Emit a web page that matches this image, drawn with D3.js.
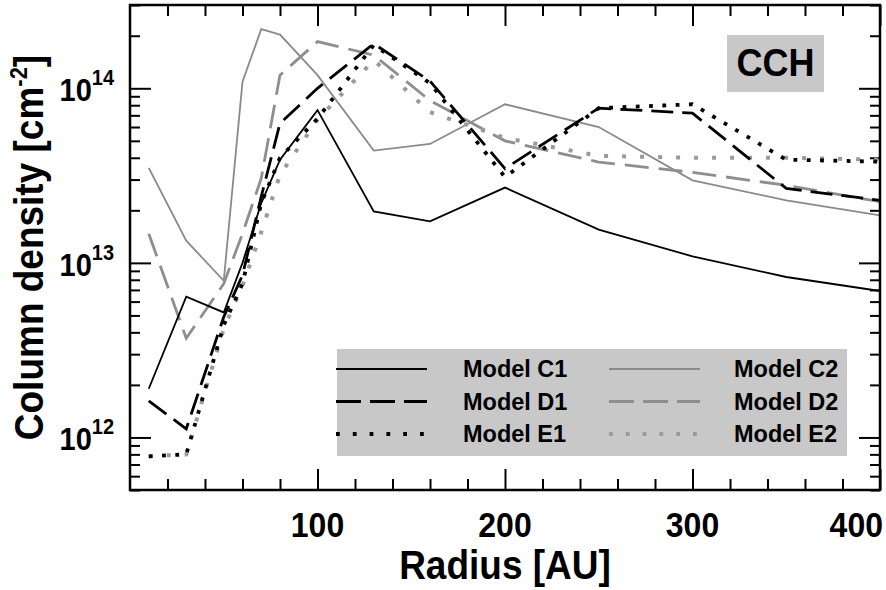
<!DOCTYPE html>
<html>
<head>
<meta charset="utf-8">
<script src="https://cdn.jsdelivr.net/npm/d3@7"></script>
<style>
  body { margin: 0; background: #fff; }
  text { font-family: "Liberation Sans", Arial, Helvetica, sans-serif; font-weight: bold; }
</style>
</head>
<body>
<div id="chart"></div>
<script>
// radius grid [AU] and column densities [cm^-2]
var radius  = [10, 30, 50, 60, 70, 80, 100, 130, 160, 200, 250, 300, 350, 400];
var modelC1 = [1.9e12, 6.4e12, 5.2e12, 1.0e13, 2.2e13, 3.9e13, 7.5e13, 1.97e13, 1.73e13, 2.7e13, 1.55e13, 1.09e13, 8.3e12, 6.9e12];
var modelC2 = [3.5e13, 1.34e13, 7.9e12, 1.09e14, 2.18e14, 2.03e14, 1.19e14, 4.4e13, 4.8e13, 8.1e13, 6.0e13, 2.97e13, 2.28e13, 1.87e13];
var modelD1 = [1.62e12, 1.12e12, 4.9e12, 8.5e12, 2.4e13, 6.3e13, 1.0e14, 1.8e14, 1.1e14, 3.47e13, 7.7e13, 7.2e13, 2.67e13, 2.28e13];
var modelD2 = [1.47e13, 3.7e12, 7.6e12, 1.47e13, 3.05e13, 1.19e14, 1.85e14, 1.55e14, 8.5e13, 5.0e13, 3.78e13, 3.3e13, 2.78e13, 2.24e13];
var modelE1 = [7.8e11, 8.0e11, 4.4e12, 7.6e12, 2.2e13, 4.0e13, 6.7e13, 1.77e14, 1.07e14, 3.1e13, 7.7e13, 8.1e13, 3.9e13, 3.8e13];
var modelE2 = [7.8e11, 8.0e11, 4.2e12, 7.4e12, 1.5e13, 3.2e13, 6.6e13, 1.45e14, 7.3e13, 5.2e13, 4.1e13, 4.0e13, 4.0e13, 3.9e13];

var xMajor = [100, 200, 300, 400];
var yMajor = [1e12, 1e13, 1e14];
var yExponents = ["12", "13", "14"];
var legendNames = ["Model C1", "Model C2", "Model D1", "Model D2", "Model E1", "Model E2"];

var W = 886, H = 590;
var margin = {top: 5, right: 6, bottom: 100, left: 130};
var width = W - margin.left - margin.right;
var height = H - margin.top - margin.bottom;

var svg = d3.select("#chart").append("svg")
    .attr("width", W)
    .attr("height", H);

var g = svg.append("g")
    .attr("transform", "translate(" + margin.left + "," + margin.top + ")");

var x = d3.scaleLinear().domain([0, 400]).range([0, width]);
var y = d3.scaleLog().domain([5e11, 3e14]).range([height, 0]);

// minor ticks
var xMinor = d3.range(0, 401, 20).filter(function(d) { return d % 100 != 0; });
var yMinor = [];
[1e11, 1e12, 1e13, 1e14].forEach(function(p) {
    for (var k = 2; k <= 9; k++) {
        var v = k * p;
        if (v >= 5e11 && v <= 3e14) yMinor.push(v);
    }
});

function tickAxis(axis) {
    return axis.tickFormat("").tickSizeOuter(0);
}

g.append("g").attr("transform", "translate(0," + height + ")")
    .call(tickAxis(d3.axisBottom(x).tickValues(xMajor).tickSizeInner(-21)));
g.append("g").attr("transform", "translate(0," + height + ")")
    .call(tickAxis(d3.axisBottom(x).tickValues(xMinor).tickSizeInner(-11)));
g.append("g")
    .call(tickAxis(d3.axisTop(x).tickValues(xMajor).tickSizeInner(-21)));
g.append("g")
    .call(tickAxis(d3.axisTop(x).tickValues(xMinor).tickSizeInner(-11)));
g.append("g")
    .call(tickAxis(d3.axisLeft(y).tickValues(yMajor).tickSizeInner(-21)));
g.append("g")
    .call(tickAxis(d3.axisLeft(y).tickValues(yMinor).tickSizeInner(-10)));
g.append("g").attr("transform", "translate(" + width + ",0)")
    .call(tickAxis(d3.axisRight(y).tickValues(yMajor).tickSizeInner(-21)));
g.append("g").attr("transform", "translate(" + width + ",0)")
    .call(tickAxis(d3.axisRight(y).tickValues(yMinor).tickSizeInner(-10)));

g.selectAll(".domain").remove();
g.selectAll(".tick line").attr("stroke", "#000").attr("stroke-width", 2);

// series
var series = [
    {v: modelC2, color: "#8a8a8a", w: 1.8, dash: null},
    {v: modelD2, color: "#8e8e8e", w: 2.8, dash: "24,10"},
    {v: modelE2, color: "#9a9a9a", w: 4, dash: "4,14"},
    {v: modelC1, color: "#000", w: 1.8, dash: null},
    {v: modelD1, color: "#000", w: 2.8, dash: "22,9"},
    {v: modelE1, color: "#000", w: 3.8, dash: "3.8,9.5"}
];

g.append("clipPath").attr("id", "clip")
  .append("rect").attr("width", width).attr("height", height);

var line = d3.line()
    .x(function(d) { return x(d[0]); })
    .y(function(d) { return y(d[1]); });

g.append("g").attr("clip-path", "url(#clip)")
  .selectAll("path")
  .data(series)
  .enter().append("path")
    .attr("d", function(s) { return line(d3.zip(radius, s.v)); })
    .attr("fill", "none")
    .attr("stroke", function(s) { return s.color; })
    .attr("stroke-width", function(s) { return s.w; })
    .attr("stroke-dasharray", function(s) { return s.dash; })
    .attr("stroke-linejoin", "miter");

// frame
g.append("rect")
    .attr("width", width)
    .attr("height", height)
    .attr("fill", "none")
    .attr("stroke", "#000")
    .attr("stroke-width", 2.5);

// stretched text helper (the original font is a bit taller than Helvetica)
function label(parent, tx, ty, size, anchor, rot, sy) {
    var t = parent.append("text")
        .attr("transform", "translate(" + tx + "," + ty + ")" + (rot ? " rotate(" + rot + ")" : "") + " scale(1," + (sy || 1.08) + ")")
        .attr("text-anchor", anchor)
        .style("font-size", size + "px")
        .attr("fill", "#000");
    return t;
}

// x tick labels
xMajor.forEach(function(d) {
    var t = label(svg, margin.left + x(d), 537, 32, "middle").text(d);
    var bb = t.node().getBBox();
    var over = margin.left + x(d) + bb.width / 2 - 883;
    if (over > 0) {
        t.attr("transform", "translate(" + (margin.left + x(d) - over) + ",537) scale(1,1.08)");
    }
});

// y tick labels
yMajor.forEach(function(d, i) {
    var t = label(svg, 114, margin.top + y(d) + 13, 29, "end");
    t.append("tspan").text("10");
    t.append("tspan").attr("dy", -15).style("font-size", "20px").text(yExponents[i]);
});

// axis titles
label(svg, margin.left + width / 2, 579, 37, "middle").text("Radius [AU]");

var yt = label(svg, 43, margin.top + height / 2, 37, "middle", -90);
yt.append("tspan").text("Column density [cm");
yt.append("tspan").attr("dy", -15).style("font-size", "22px").text("-2");
yt.append("tspan").attr("dy", 15).text("]");

// species box
svg.append("rect")
    .attr("x", 727).attr("y", 35)
    .attr("width", 97).attr("height", 57)
    .attr("fill", "#c8c8c8");
label(svg, 775.5, 76, 36, "middle").text("CCH");

// legend
var legend = svg.append("g");
legend.append("rect")
    .attr("x", 337).attr("y", 349)
    .attr("width", 510).attr("height", 107)
    .attr("fill", "#c8c8c8");

var legendStyle = [
    {color: "#000", w: 1.8, dash: null},
    {color: "#8a8a8a", w: 1.8, dash: null},
    {color: "#000", w: 2.8, dash: "25,9"},
    {color: "#8e8e8e", w: 2.8, dash: "25,9"},
    {color: "#000", w: 3.8, dash: "3.8,13"},
    {color: "#9a9a9a", w: 3.8, dash: "3.8,13"}
];

legendNames.forEach(function(name, i) {
    var col = i % 2, row = Math.floor(i / 2);
    var ly = 369 + row * 32.5;
    var x0 = col == 0 ? 336 : 609;
    legend.append("line")
        .attr("x1", x0).attr("x2", x0 + 91)
        .attr("y1", ly).attr("y2", ly)
        .attr("stroke", legendStyle[i].color)
        .attr("stroke-width", legendStyle[i].w)
        .attr("stroke-dasharray", legendStyle[i].dash);
    label(legend, col == 0 ? 463 : 734, ly + 8, 23.5, "start", 0, 1.02).text(name);
});
</script>
</body>
</html>
